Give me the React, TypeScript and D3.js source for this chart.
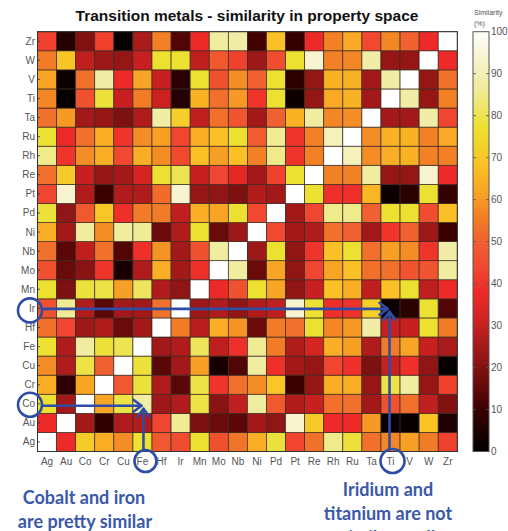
import React from "react";
import * as d3 from "d3";

// Categories (x: left→right, y: bottom→top)
const metals = ["Ag","Au","Co","Cr","Cu","Fe","Hf","Ir","Mn","Mo","Nb","Ni","Pd","Pt","Re","Rh","Ru","Ta","Ti","V","W","Zr"];

// Similarity rows (%), columns in `metals` order
const rowZr = [42, 6, 20, 42, 1, 26, 56, 13, 38, 87, 88, 11, 68, 9, 38, 56, 63, 44, 57, 50, 38, 100];
const rowW  = [55, 69, 29, 24, 23, 30, 77, 77, 29, 48, 42, 24, 45, 77, 94, 56, 57, 88, 23, 23, 100, 38];
const rowV  = [62, 2, 53, 88, 38, 62, 30, 7, 77, 46, 58, 50, 77, 7, 23, 65, 65, 25, 88, 100, 23, 53];
const rowTi = [57, 1, 46, 78, 30, 55, 31, 6, 65, 53, 60, 40, 77, 2, 23, 63, 65, 25, 100, 88, 23, 56];
const rowTa = [53, 60, 25, 23, 19, 27, 88, 72, 29, 53, 47, 25, 50, 65, 87, 57, 58, 100, 25, 25, 88, 43];
const rowRu = [77, 38, 53, 64, 40, 58, 61, 43, 64, 68, 77, 49, 86, 40, 56, 91, 100, 58, 65, 65, 56, 63];
const rowRh = [85, 40, 58, 64, 44, 64, 58, 44, 68, 61, 68, 56, 85, 40, 56, 100, 91, 58, 64, 65, 56, 56];
const rowRe = [53, 71, 30, 23, 25, 33, 77, 80, 30, 43, 36, 25, 42, 77, 100, 56, 56, 87, 23, 23, 94, 38];
const rowPt = [43, 94, 27, 10, 27, 27, 52, 94, 23, 22, 19, 27, 25, 100, 77, 39, 39, 66, 2, 7, 77, 9];
const rowPd = [78, 22, 48, 70, 39, 55, 55, 29, 64, 62, 77, 44, 100, 25, 43, 85, 85, 50, 77, 77, 45, 68];
const rowNi = [64, 25, 87, 58, 87, 86, 16, 27, 77, 16, 24, 100, 44, 25, 27, 53, 50, 25, 40, 50, 24, 10];
const rowNb = [53, 14, 29, 53, 13, 39, 59, 25, 46, 87, 100, 24, 77, 22, 40, 68, 77, 53, 61, 58, 40, 88];
const rowMo = [46, 16, 21, 40, 4, 27, 64, 25, 39, 100, 87, 16, 62, 22, 43, 62, 68, 53, 53, 47, 47, 87];
const rowMn = [77, 19, 78, 79, 61, 81, 27, 22, 100, 38, 46, 77, 62, 22, 30, 68, 64, 29, 68, 77, 29, 38];
const rowIr = [46, 86, 27, 14, 25, 25, 53, 100, 24, 27, 22, 27, 29, 94, 77, 39, 40, 72, 2, 7, 77, 13];
const rowHf = [53, 43, 24, 27, 16, 25, 100, 55, 28, 64, 59, 16, 55, 53, 77, 57, 60, 88, 30, 30, 77, 55];
const rowFe = [77, 27, 87, 78, 80, 100, 25, 27, 81, 29, 39, 86, 55, 27, 33, 64, 61, 27, 55, 62, 30, 26];
const rowCu = [58, 27, 79, 50, 100, 78, 14, 25, 61, 4, 13, 87, 39, 25, 23, 43, 39, 19, 30, 39, 22, 1];
const rowCr = [64, 8, 62, 100, 48, 78, 27, 14, 79, 40, 53, 58, 70, 10, 23, 64, 64, 23, 79, 87, 23, 42];
const rowCo = [77, 25, 100, 62, 79, 88, 24, 27, 79, 21, 29, 87, 48, 27, 30, 53, 53, 25, 46, 53, 29, 20];
const rowAu = [38, 100, 25, 8, 27, 27, 43, 86, 19, 16, 14, 25, 22, 94, 71, 38, 38, 60, 1, 1, 69, 5];
const rowAg = [100, 38, 71, 64, 58, 77, 48, 45, 77, 46, 54, 64, 78, 43, 53, 85, 78, 53, 57, 61, 55, 42];

const rowsByMetal: Record<string, number[]> = {
  Ag: rowAg, Au: rowAu, Co: rowCo, Cr: rowCr, Cu: rowCu, Fe: rowFe, Hf: rowHf, Ir: rowIr,
  Mn: rowMn, Mo: rowMo, Nb: rowNb, Ni: rowNi, Pd: rowPd, Pt: rowPt, Re: rowRe, Rh: rowRh,
  Ru: rowRu, Ta: rowTa, Ti: rowTi, V: rowV, W: rowW, Zr: rowZr,
};

const colorbarTicks = [0, 10, 20, 30, 40, 50, 60, 70, 80, 90, 100];

// "hot"-like colormap
const cmapStops = [0, 7, 10, 16, 22, 27, 30, 38, 43, 50, 56, 61, 68, 77, 87, 94, 100];
const cmapColors = ["#000000","#2a0000","#3a0000","#6a0a0a","#901515","#b01c1c","#c82020","#ee2a28","#f04530","#f06030","#f28025","#f8a025","#fbc025","#ece030","#f0eca0","#f8f4d0","#ffffff"];

const BLUE = "#2f4ca6";
const TEXTBLUE = "#3a58aa";

export default function App() {
  const x0 = 37.5, y0 = 31.7, size = 419.8;
  const x = d3.scaleBand<string>().domain(metals).range([x0, x0 + size]);
  const y = d3.scaleBand<string>().domain([...metals].reverse()).range([y0, y0 + size]);
  const color = d3.scaleLinear<string>().domain(cmapStops).range(cmapColors).interpolate(d3.interpolateRgb).clamp(true);

  const cbX = 473, cbW = 16, cbTop = y0, cbBot = y0 + size;
  const cbY = d3.scaleLinear().domain([0, 100]).range([cbBot, cbTop]);
  const gradStops = d3.range(0, 101, 1);

  const cells: JSX.Element[] = [];
  metals.forEach((rm) => {
    const row = rowsByMetal[rm];
    metals.forEach((cm, j) => {
      cells.push(
        <rect key={rm + cm} x={x(cm)} y={y(rm)} width={x.bandwidth()} height={y.bandwidth()}
          fill={color(row[j])} stroke="#3a2a20" strokeWidth={0.7} />
      );
    });
  });

  const xc = (m: string) => (x(m) as number) + x.bandwidth() / 2;
  const yc = (m: string) => (y(m) as number) + y.bandwidth() / 2;

  const coY = yc("Co") + 2, feX = xc("Fe") + 1;
  const irY = yc("Ir") + 0.5, tiX = xc("Ti") - 1;

  return (
    <svg width={508} height={531} style={{ position: "absolute", left: 0, top: 0, background: "#fff" }}
      fontFamily="'Liberation Sans', Arial, sans-serif">
      <defs>
        <linearGradient id="cbgrad" x1="0" y1="1" x2="0" y2="0">
          {gradStops.map((v) => (
            <stop key={v} offset={`${v}%`} stopColor={color(v)} />
          ))}
        </linearGradient>
      </defs>
      <rect x={0} y={0} width={508} height={531} fill="#fff" />
      <text x={247} y={20.5} textAnchor="middle" fontSize={15.5} fontWeight="bold" fill="#111">
        Transition metals - similarity in property space
      </text>

      {cells}
      <rect x={x0} y={y0} width={size} height={size} fill="none" stroke="#333" strokeWidth={1} />

      {metals.map((m) => (
        <g key={"yl" + m}>
          <line x1={x0} x2={x0 + 2.5} y1={yc(m)} y2={yc(m)} stroke="#333" strokeWidth={0.8} />
          <text x={35} y={yc(m)} textAnchor="end" dominantBaseline="central" fontSize={10} fill="#555">{m}</text>
        </g>
      ))}
      {metals.map((m) => (
        <text key={"xl" + m} x={xc(m)} y={465} textAnchor="middle" fontSize={10} fill="#555">{m}</text>
      ))}

      {/* colorbar */}
      <rect x={cbX} y={cbTop} width={cbW} height={cbBot - cbTop} fill="url(#cbgrad)" stroke="#555" strokeWidth={1} />
      {colorbarTicks.map((t) => (
        <g key={"cb" + t}>
          {t > 0 && t < 100 && (
            <>
              <line x1={cbX} x2={cbX + 3} y1={cbY(t)} y2={cbY(t)} stroke="#555" strokeWidth={0.8} />
              <line x1={cbX + cbW - 3} x2={cbX + cbW} y1={cbY(t)} y2={cbY(t)} stroke="#555" strokeWidth={0.8} />
            </>
          )}
          <text x={cbX + cbW + 2} y={cbY(t)} dominantBaseline="central" fontSize={10} fill="#555">{t}</text>
        </g>
      ))}
      <text x={474} y={15} fontSize={7} fill="#555">Similarity</text>
      <text x={474} y={26} fontSize={7} fill="#555">(%)</text>

      {/* annotations */}
      <g stroke={BLUE} strokeWidth={2.6} fill="none" strokeLinecap="round" strokeLinejoin="round">
        <circle cx={30} cy={yc("Ir") + 2} r={12} />
        <circle cx={30} cy={coY - 1} r={12} />
        <circle cx={feX + 2} cy={461} r={11} />
        <circle cx={tiX + 3} cy={461} r={12} />
        <line x1={42} y1={coY} x2={feX - 2} y2={coY} />
        <path d={`M${feX - 10},${coY - 6} L${feX - 2},${coY} L${feX - 10},${coY + 6}`} />
        <line x1={feX} y1={450} x2={feX} y2={coY + 3} />
        <path d={`M${feX - 6},${coY + 11} L${feX},${coY + 3} L${feX + 6},${coY + 11}`} />
        <line x1={42} y1={irY} x2={tiX - 2} y2={irY} />
        <path d={`M${tiX - 10},${irY - 6} L${tiX - 2},${irY} L${tiX - 10},${irY + 6}`} />
        <line x1={tiX} y1={449} x2={tiX} y2={irY + 3} />
        <path d={`M${tiX - 6},${irY + 11} L${tiX},${irY + 3} L${tiX + 6},${irY + 11}`} />
      </g>

      <g fontFamily="Lato, 'Open Sans', sans-serif" fontWeight="bold" fontSize={18} fill={TEXTBLUE} textAnchor="middle">
        <text x={84} y={504}>Cobalt and iron</text>
        <text x={85} y={528}>are pretty similar</text>
        <text x={388} y={496}>Iridium and</text>
        <text x={388} y={520}>titanium are not</text>
        <text x={388} y={544}>similar at all</text>
      </g>
    </svg>
  );
}
